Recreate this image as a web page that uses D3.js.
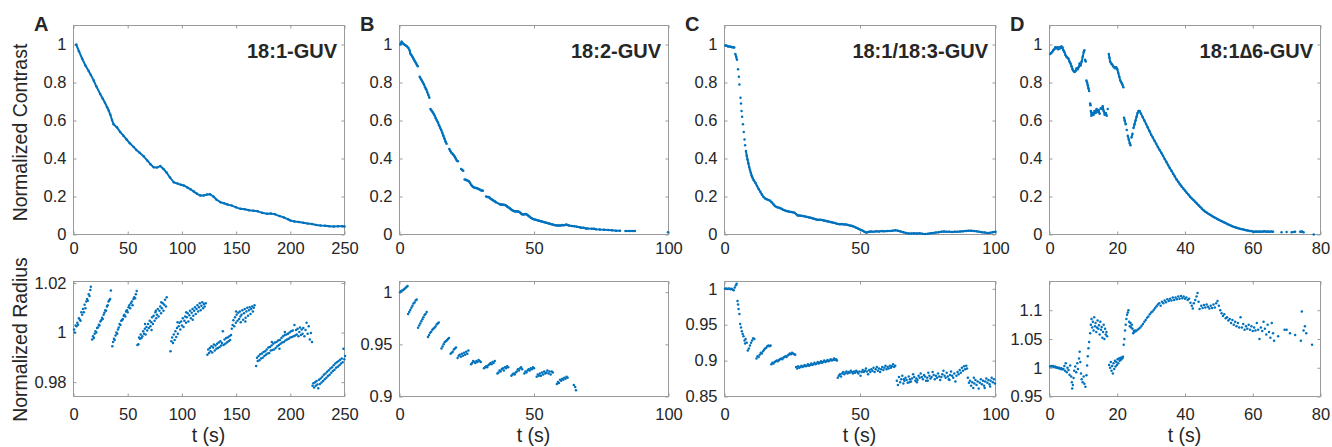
<!DOCTYPE html>
<html>
<head>
<meta charset="utf-8">
<script src="https://cdn.jsdelivr.net/npm/d3@7"></script>
<style>
  body { margin: 0; background: #fff; }
  svg text { font-family: "Liberation Sans", Arial, Helvetica, sans-serif; fill: #262626; }
</style>
</head>
<body>
<div id="chart"></div>
<script>
// ---- data: [t (s), value] ----
const contrastA = [[2.5,1.0],[5,0.965],[8,0.925],[11,0.89],[14,0.86],[16,0.84],[18.7,0.81],[21,0.78],[24.6,0.74],[27,0.715],[29,0.693],[31,0.67],[32.5,0.652],[34,0.63],[35.5,0.603],[37,0.58],[40,0.565],[43,0.54],[46,0.52],[49,0.5],[52,0.48],[55.6,0.46],[58,0.445],[61,0.43],[64.9,0.41],[68,0.39],[71,0.37],[74,0.354],[77,0.352],[80,0.36],[83,0.345],[86,0.325],[89,0.3],[92.5,0.275],[96,0.268],[99,0.262],[101.7,0.258],[105,0.248],[108,0.238],[111,0.226],[114,0.214],[117,0.205],[120,0.205],[123,0.21],[126,0.212],[129,0.2],[132,0.183],[135.6,0.17],[139,0.164],[142,0.158],[146,0.152],[150,0.143],[154,0.135],[158,0.133],[162,0.128],[166,0.125],[170,0.122],[174,0.114],[178.6,0.109],[182,0.11],[186,0.106],[190,0.097],[194,0.09],[198,0.08],[200,0.074],[204,0.068],[208,0.066],[212,0.062],[216,0.058],[220,0.055],[224,0.05],[228,0.047],[232,0.046],[236,0.044],[240,0.042],[244,0.043],[248,0.044],[250,0.042]];

const radiusA = [[0.5,1.0012],[1.2,1.0],[2,1.0028],[2.8,1.0025],[3.5,1.004],[4.2,1.0032],[5,1.0058],[5.8,1.0052],[6.5,1.0048],[7.2,1.0082],[8,1.0072],[8.8,1.0095],[9.5,1.0082],[10.2,1.0112],[11,1.0098],[11.8,1.0125],[12.5,1.0135],[13.2,1.0128],[14,1.0155],[14.8,1.0148],[15.5,1.0172],[16,1.0185],
[17.2,0.9972],[18,0.9985],[18.8,0.9978],[19.5,0.9995],[20.3,1.0005],[21,1.0],[21.8,1.0018],[22.5,1.002],[23.3,1.0032],[24,1.0028],[24.8,1.0045],[25.5,1.005],[26.3,1.006],[27,1.0055],[27.8,1.0072],[28.5,1.008],[29.3,1.009],[30,1.0088],[30.8,1.0105],[31.5,1.011],[32.3,1.0125],[33,1.013],[33.8,1.0135],[34.5,1.017],
[35.8,0.9945],[36.5,0.9962],[37.3,0.9975],[38,0.997],[38.8,0.9988],[39.5,1.0],[40.3,0.9995],[41,1.0012],[41.8,1.002],[42.5,1.0035],[43.3,1.003],[44,1.0048],[44.8,1.005],[45.5,1.0055],[46.3,1.0068],[47,1.0072],[47.8,1.0065],[48.5,1.0085],[49.3,1.009],[50,1.0082],[50.8,1.0102],[51.5,1.011],[52.3,1.0098],[53,1.0118],[53.8,1.0125],[54.5,1.011],[55.3,1.0135],[56,1.0142],[56.8,1.0138],[57.5,1.0155],[58.3,1.0168],
[59,0.995],[59.8,0.9953],[60.5,0.998],[61.3,0.9975],[62,0.9992],[62.8,0.9978],[63.5,0.9985],[64.3,1.0005],[65,0.9995],[65.8,1.0015],[66.5,0.9992],[67.3,1.0022],[68,1.0008],[68.8,1.0035],[69.5,1.0018],[70.3,1.0048],[71,1.0025],[71.8,1.0042],[72.5,1.0062],[73.3,1.0035],[74,1.0068],[74.8,1.0048],[75.5,1.0082],[76.3,1.0058],[77,1.0072],[77.8,1.0095],[78.5,1.0065],[79.3,1.0088],[80,1.0105],[80.8,1.0078],[81.5,1.0098],[82.3,1.0118],[83,1.0088],[83.8,1.0112],[84.5,1.0132],[85.3,1.0105],[86,1.0142],[66,1.0035],[72,1.001],[76,1.0088],[81,1.0122],
[89.5,0.9925],[90.3,0.9965],[91,0.998],[91.8,0.9958],[92.5,0.9992],[93.3,0.997],[94,1.0005],[94.8,0.9982],[95.5,1.0018],[96.3,0.9995],[97,1.0025],[97.8,1.004],[98.5,1.0012],[99.3,1.0045],[100,1.0028],[100.8,1.0058],[101.5,1.0022],[102.3,1.0048],[103,1.0065],[103.8,1.004],[104.5,1.0062],[105.3,1.0078],[106,1.0045],[106.8,1.007],[107.5,1.0088],[108.3,1.0058],[109,1.008],[109.8,1.0095],[110.5,1.0068],[111.3,1.0088],[112,1.0102],[112.8,1.0075],[113.5,1.0095],[114.3,1.011],[115,1.0085],[115.8,1.0102],[116.5,1.0118],[117.3,1.009],[118,1.0108],[118.8,1.0122],[119.5,1.0098],[120.3,1.0115],[121,1.0105],[122,1.0118],[96,1.0042],[104,1.0082],[110,1.0052],
[123.5,0.991],[124.3,0.9932],[125,0.9918],[125.8,0.9938],[126.5,0.9925],[127.3,0.9945],[128,0.992],[128.8,0.994],[129.5,0.9952],[130.3,0.9928],[131,0.9948],[131.8,0.9935],[132.5,0.9955],[133.3,0.9938],[134,0.996],[134.8,0.9942],[135.5,0.9965],[136.3,0.9948],[137,0.9958],[137.8,1.0005],[138.5,0.995],[139.3,0.9972],[140,0.9955],[140.8,0.9978],[141.5,0.996],[142.3,0.998],[143,0.9965],[143.8,0.9985],[144.5,0.997],[145.3,0.999],[146,1.0015],[146.8,1.003],[147.5,1.005],[148.3,1.0025],[149,1.0062],[149.8,1.004],[150.5,1.0072],[151.3,1.0048],[152,1.008],[152.8,1.0055],[153.5,1.0085],[154.3,1.0042],[155,1.0072],[155.8,1.009],[156.5,1.0052],[157.3,1.0078],[158,1.0095],[158.8,1.006],[159.5,1.0085],[160.3,1.01],[161,1.0068],[161.8,1.009],[162.5,1.0102],[163.3,1.0075],[164,1.0095],[164.8,1.0105],[165.5,1.0085],[166.3,1.01],[167,1.011],[150,1.0085],[154,1.0065],[158.5,1.0045],
[168.5,0.9865],[169.3,0.9898],[170,0.9885],[170.8,0.9905],[171.5,0.9888],[172.3,0.9912],[173,0.9895],[173.8,0.9915],[174.5,0.9898],[175.3,0.9922],[176,0.9905],[176.8,0.9925],[177.5,0.991],[178.3,0.9932],[179,0.9915],[179.8,0.994],[180.5,0.9918],[181.3,0.9942],[182,0.9928],[182.8,0.9948],[183.5,0.993],[184.3,0.9955],[185,0.9932],[185.8,0.996],[186.5,0.9938],[187.3,0.9962],[188,0.9945],[188.8,0.9968],[189.5,0.995],[190.3,0.997],[191,0.9955],[191.8,0.9978],[192.5,0.996],[193.3,0.9985],[194,0.9962],[194.8,0.999],[195.5,0.9968],[196.3,0.9992],[197,0.9972],[197.8,0.9995],[198.5,0.9975],[199.3,1.0],[200,0.998],[200.8,1.0005],[201.5,0.9982],[202.3,1.0008],[203,0.9985],[203.8,1.003],[204.5,0.9988],[205.3,1.001],[206,0.9992],[206.8,1.0015],[207.5,0.9985],[208.3,1.0002],[209,1.002],[209.8,0.999],[210.5,1.0012],[211.3,0.9995],[212,1.0018],[213,0.9985],[214,1.001],[215,1.004],[216,0.9995],[217,1.0025],[218,0.9972],[219,0.9998],[220,0.9962],[190,0.9935],[195,1.0002],[183,0.9962],
[220.5,0.9785],[221.3,0.9795],[222,0.9778],[222.8,0.98],[223.5,0.9785],[224.3,0.9805],[225,0.979],[225.8,0.9775],[226.5,0.981],[227.3,0.9792],[228,0.9815],[228.8,0.9798],[229.5,0.9822],[230.3,0.9805],[231,0.983],[231.8,0.9812],[232.5,0.9835],[233.3,0.9818],[234,0.9842],[234.8,0.9825],[235.5,0.9848],[236.3,0.983],[237,0.9855],[237.8,0.9838],[238.5,0.986],[239.3,0.9845],[240,0.9868],[240.8,0.985],[241.5,0.9875],[242.3,0.9858],[243,0.988],[243.8,0.9862],[244.5,0.9885],[245.3,0.9868],[246,0.989],[246.8,0.9875],[247.5,0.9895],[248.3,0.988],[249,0.9935],[249.8,0.9892],[250.5,0.9905]];

const contrastB = [[0.3,1.0],[0.8,1.015],[1.3,1.005],[1.8,1.0],[2.3,0.995],[2.8,0.99],[3.3,0.982],[3.8,0.968],
[4.0,0.952],[4.4,0.945],[4.8,0.935],[5.2,0.925],[5.6,0.915],[6.0,0.905],[6.4,0.895],[6.8,0.885],
[7.5,0.83],[7.9,0.82],[8.3,0.81],[8.7,0.8],[9.1,0.79],[9.5,0.775],[9.9,0.765],[10.3,0.75],[10.7,0.735],[11.1,0.72],
[11.5,0.66],[11.9,0.652],[12.3,0.645],[12.7,0.635],[13.1,0.625],[13.5,0.612],[13.9,0.6],[14.3,0.59],[14.7,0.575],[15.1,0.562],[15.5,0.55],[15.9,0.535],[16.3,0.52],[16.7,0.505],[17.1,0.49],[17.5,0.478],
[18.5,0.45],[18.9,0.44],[19.3,0.43],[19.7,0.425],[20.1,0.418],[20.5,0.41],[20.9,0.4],[21.3,0.39],[21.7,0.385],
[22.9,0.345],[23.3,0.34],[23.7,0.335],
[24.2,0.29],[24.6,0.288],[25,0.285],[25.4,0.283],[25.8,0.28],[26.2,0.272],[26.6,0.262],[27,0.255],[27.4,0.25],[27.8,0.247],[28.2,0.245],[28.6,0.245],[29,0.242],[29.4,0.24],[29.8,0.237],[30.2,0.233],[30.6,0.232],[31,0.23],
[32.2,0.2],[32.6,0.198],[33,0.197],[33.4,0.195],[33.8,0.19],[34.2,0.185],[34.6,0.182],[35,0.178],[35.4,0.175],[35.8,0.17],
[37.2,0.16],[37.6,0.157],[38,0.158],[38.4,0.157],[38.8,0.156],[39.2,0.155],[39.6,0.152],[40,0.148],[40.4,0.144],[40.8,0.14],[41.2,0.136],[41.6,0.13],[42,0.127],[42.4,0.124],[42.8,0.122],[43.2,0.121],[43.6,0.122],[44,0.121],[44.4,0.12],[44.8,0.116],[45.2,0.11],[45.6,0.106],[46,0.105],[46.4,0.106],[46.8,0.108],[47.2,0.106],[47.6,0.102],[48,0.098],[48.4,0.093],[48.8,0.088],[49.2,0.085],[49.6,0.082],[50,0.08],[50.5,0.078],[51,0.076],[51.5,0.074],[52,0.072],[52.5,0.07],[53,0.068],[53.5,0.066],[54,0.064],[54.5,0.062],[55,0.06],[55.5,0.058],[56,0.056],[56.5,0.054],[57,0.052],[57.5,0.05],[58,0.049],[58.5,0.048],[59,0.048],[59.5,0.047],[60,0.048],[60.5,0.05],[61,0.049],[61.5,0.05],[62,0.052],[62.5,0.05],[63,0.047],
[64,0.045],[65,0.043],[66,0.041],[67,0.038],[67.6,0.036],[68.5,0.035],[69.3,0.032],[70,0.031],[71.5,0.03],[72.3,0.03],[73,0.028],[74.5,0.026],[76,0.025],[77.6,0.024],[79,0.022],[80.5,0.02],[82,0.02],[84,0.019],[85.5,0.019],[86.5,0.018],[87.5,0.018],[99.8,0.012]];

const radiusB = [[0.2,1.0],[0.6,1.001],[1,1.0015],[1.4,1.002],[1.8,1.003],[2.2,1.004],[2.6,1.005],[3,1.006],
[3.2,0.979],[3.6,0.981],[4,0.983],[4.4,0.985],[4.8,0.987],[5.2,0.989],[5.6,0.99],[6,0.992],[6.4,0.993],
[6.9,0.966],[7.3,0.968],[7.7,0.97],[8.1,0.972],[8.5,0.974],[8.9,0.976],[9.3,0.978],[9.7,0.979],[10.1,0.981],
[10.6,0.957],[11,0.959],[11.4,0.961],[11.8,0.962],[12.2,0.964],[12.6,0.965],[13,0.966],[13.4,0.967],[13.8,0.969],[14.2,0.97],[14.6,0.971],
[15.6,0.946],[16,0.948],[16.4,0.95],[16.8,0.952],[17.2,0.953],[17.6,0.954],[18,0.955],[18.4,0.956],
[19,0.941],[19.4,0.942],[19.8,0.943],[20.2,0.945],[20.6,0.946],[21,0.947],
[21.6,0.937],[22,0.939],[22.4,0.94],[22.8,0.938],[23.2,0.941],[23.6,0.939],[24,0.942],[24.4,0.94],[24.8,0.943],[25.2,0.941],[25.6,0.944],
[26.6,0.931],[27,0.932],[27.4,0.934],[27.8,0.933],[28.2,0.932],[28.6,0.934],[29,0.933],[29.4,0.935],[29.8,0.934],[30.2,0.933],
[31.4,0.927],[31.8,0.928],[32.2,0.929],[32.6,0.928],[33,0.93],[33.4,0.931],[33.8,0.932],[34.2,0.931],[34.6,0.933],[35,0.932],[35.4,0.934],
[36.4,0.922],[36.8,0.923],[37.2,0.925],[37.6,0.924],[38,0.926],[38.4,0.927],[38.8,0.925],[39.2,0.928],[39.6,0.927],[40,0.929],[40.4,0.928],
[41.6,0.92],[42,0.921],[42.4,0.922],[42.8,0.921],[43.2,0.923],[43.6,0.924],[44,0.926],[44.4,0.925],[44.8,0.927],[45.2,0.928],[45.6,0.926],
[46.4,0.922],[46.8,0.924],[47.2,0.923],[47.6,0.925],[48,0.926],[48.4,0.925],[48.8,0.927],[49.2,0.926],[49.6,0.928],[50,0.927],
[51,0.919],[51.4,0.921],[51.8,0.92],[52.2,0.922],[52.6,0.92],[53,0.923],[53.4,0.921],[53.8,0.924],[54.2,0.922],[54.6,0.923],[55,0.925],[55.4,0.922],[55.8,0.924],[56.2,0.921],[56.6,0.924],[57,0.923],
[58.5,0.912],[58.9,0.914],[59.3,0.913],[59.7,0.916],[60.1,0.915],[60.5,0.917],[60.9,0.916],[61.3,0.918],[61.7,0.917],[62.1,0.919],[62.5,0.918],
[64.8,0.911],[65.3,0.909],[65.6,0.906]];

const contrastC = [[0.3,0.995],[0.8,0.993],[1.3,0.99],[1.8,0.99],[2.3,0.988],[2.8,0.986],[3.3,0.985],[3.6,0.984],
[4.0,0.95],[4.3,0.935],[4.6,0.92],[5.0,0.87],[5.3,0.83],[5.5,0.79],[5.9,0.72],[6.1,0.69],[6.3,0.65],[6.5,0.62],[6.8,0.58],[7.1,0.54],[7.4,0.5],[7.6,0.47],[7.9,0.44],[8.2,0.415],[8.5,0.395],[8.8,0.375],[9.1,0.355],[9.4,0.34],[9.7,0.325],[10.0,0.31],[10.3,0.3],
[10.8,0.285],[11.4,0.272],[12,0.255],[12.6,0.24],[13.2,0.225],[13.8,0.21],[14.4,0.198],[15,0.19],[15.6,0.185],[16.2,0.182],[16.8,0.178],[17.4,0.17],[18,0.16],[18.6,0.15],[19.2,0.145],[19.8,0.142],[20.4,0.14],[21,0.135],[21.6,0.13],[22.2,0.127],[22.8,0.124],[23.4,0.122],[24,0.12],[24.6,0.118],[25.2,0.117],[25.8,0.115],[26.4,0.108],[27,0.1],[27.6,0.1],[28.2,0.099],[28.8,0.098],[29.4,0.096],[30,0.094],[30.6,0.092],[31.2,0.09],[31.8,0.088],[32.4,0.086],[33,0.083],[33.6,0.08],[34.2,0.078],[34.8,0.077],[35.4,0.077],[36,0.076],[36.6,0.074],[37.2,0.072],[37.8,0.07],[38.4,0.068],[39,0.066],[39.6,0.064],[40.2,0.062],[40.8,0.06],[41.4,0.057],[42,0.055],[42.6,0.054],[43.2,0.055],[43.8,0.054],[44.4,0.052],[45,0.052],[45.6,0.05],[46.2,0.048],[46.8,0.046],[47.4,0.043],[48,0.04],[48.6,0.036],[49.2,0.032],[49.8,0.028],[50.4,0.024],[51,0.02],[51.6,0.015],[52.2,0.01],[52.8,0.012],[53.4,0.015],[54,0.016],[55,0.015],[56,0.017],[57,0.016],[58,0.018],[59,0.017],[60,0.019],[61,0.018],[62,0.02],[63,0.022],[64,0.02],[65,0.016],[66,0.012],[67,0.008],[68,0.005],[69,0.005],[70,0.006],[71,0.005],[72,0.006],[73,0.004],[74,0.003],[75,0.004],[76,0.006],[77,0.008],[78,0.01],[79,0.012],[80,0.015],[81,0.016],[82,0.015],[83,0.014],[84,0.013],[85,0.014],[86,0.015],[87,0.016],[88,0.017],[89,0.018],[90,0.02],[91,0.02],[92,0.018],[93,0.017],[94,0.014],[95,0.012],[96,0.01],[97,0.008],[98,0.009],[99,0.012],[100,0.015]];

const radiusC = [[0.2,1.0],[0.6,1.0005],[1,0.9998],[1.4,1.0],[1.8,1.0003],[2.2,0.9995],[2.6,1.0],[3,0.999],[3.4,0.998],[3.8,1.002],[4.2,1.005],[4.5,1.007],
[4.8,0.983],[5,0.978],[5.2,0.972],[5.5,0.965],
[5.8,0.951],[6.1,0.946],[6.4,0.941],[6.7,0.937],[7.0,0.934],[7.4,0.928],[7.6,0.924],
[7.8,0.93],[8.2,0.925],[8.6,0.914],[9.0,0.917],[9.4,0.921],[9.8,0.925],[10.2,0.928],[10.6,0.931],[11.0,0.93],
[11.8,0.903],[12.2,0.906],[12.6,0.905],[13,0.908],[13.4,0.911],[13.8,0.91],[14.2,0.913],[14.6,0.915],[15,0.917],[15.4,0.918],[15.8,0.92],[16.2,0.921],[16.6,0.92],[17,0.921],
[17.3,0.895],[17.7,0.897],[18.1,0.896],[18.5,0.898],[18.9,0.899],[19.3,0.9],[19.7,0.899],[20.1,0.901],[20.5,0.902],[20.9,0.903],[21.3,0.902],[21.7,0.904],[22.1,0.905],[22.5,0.906],[22.9,0.905],[23.3,0.907],[23.7,0.908],[24.1,0.91],[24.5,0.909],[24.9,0.911],[25.3,0.91],[25.7,0.909],[26.1,0.908],
[26.4,0.891],[26.8,0.889],[27.2,0.892],[27.6,0.89],[28,0.891],[28.4,0.893],[28.8,0.891],[29.2,0.892],[29.6,0.894],[30,0.892],[30.4,0.893],[30.8,0.895],[31.2,0.893],[31.6,0.894],[32,0.896],[32.4,0.894],[32.8,0.895],[33.2,0.897],[33.6,0.895],[34,0.896],[34.4,0.898],[34.8,0.896],[35.2,0.897],[35.6,0.899],[36,0.897],[36.4,0.898],[36.8,0.9],[37.2,0.898],[37.6,0.899],[38,0.901],[38.4,0.899],[38.8,0.9],[39.2,0.902],[39.6,0.9],[40,0.901],[40.4,0.903],[40.8,0.901],[41.2,0.902],[41.5,0.9],
[41.8,0.876],[42.2,0.879],[42.6,0.881],[43,0.878],[43.4,0.882],[43.8,0.884],[44.2,0.881],[44.6,0.883],[45,0.885],[45.4,0.882],[45.8,0.884],[46.2,0.883],[46.6,0.886],[47,0.884],[47.4,0.882],[47.8,0.885],[48.2,0.883],[48.6,0.886],[49,0.884],[49.4,0.882],[49.8,0.885],[50.2,0.879],[50.6,0.884],[51,0.887],[51.4,0.884],[51.8,0.886],[52.2,0.889],[52.6,0.885],[53,0.881],[53.4,0.887],[53.8,0.884],[54.2,0.888],[54.6,0.886],[55,0.89],[55.4,0.884],[55.8,0.888],[56.2,0.891],[56.6,0.886],[57,0.889],[57.4,0.884],[57.8,0.888],[58.2,0.891],[58.6,0.887],[59,0.89],[59.4,0.893],[59.8,0.888],[60.2,0.891],[60.6,0.889],[61,0.893],[61.4,0.89],[61.8,0.892],[62.2,0.895],[62.6,0.891],[63,0.893],
[63.6,0.872],[64,0.866],[64.4,0.877],[64.8,0.87],[65.2,0.874],[65.6,0.879],[66,0.868],[66.4,0.872],[66.8,0.876],[67.2,0.873],[67.6,0.869],[68,0.878],[68.4,0.874],[68.8,0.871],[69.2,0.875],[69.6,0.881],[70,0.877],[70.4,0.872],[70.8,0.875],[71.2,0.873],[71.6,0.879],[72,0.876],[72.4,0.882],[72.8,0.877],[73.2,0.874],[73.6,0.88],[74,0.878],[74.4,0.872],[74.8,0.876],[75.2,0.883],[75.6,0.879],[76,0.875],[76.4,0.877],[76.8,0.884],[77.2,0.88],[77.6,0.874],[78,0.879],[78.4,0.876],[78.8,0.882],[79.2,0.878],[79.6,0.873],[80,0.877],[80.4,0.881],[80.8,0.886],[81.2,0.879],[81.6,0.876],[82,0.883],[82.4,0.878],[82.8,0.874],[83.2,0.88],[83.6,0.885],[84,0.879],[84.4,0.876],[84.8,0.882],[85.2,0.871],[85.6,0.879],[86,0.884],[86.4,0.881],[86.8,0.887],[87.2,0.883],[87.6,0.89],[88,0.886],[88.4,0.892],[88.8,0.888],[89.2,0.893],[89.5,0.889],[68.2,0.87],[75,0.872],[83,0.873],[66.2,0.874],[71,0.87],
[89.8,0.876],[90.2,0.869],[90.6,0.872],[91,0.865],[91.4,0.87],[91.8,0.862],[92.2,0.868],[92.6,0.873],[93,0.866],[93.4,0.871],[93.8,0.861],[94.2,0.869],[94.6,0.874],[95,0.867],[95.4,0.872],[95.8,0.865],[96.2,0.871],[96.6,0.875],[97,0.869],[97.4,0.873],[97.8,0.867],[98.2,0.872],[98.6,0.876],[99,0.87],[99.4,0.874],[99.8,0.868],[92,0.876],[96,0.862],[98,0.864]];

const contrastD = [[0.2,0.95],[0.5,0.955],[0.8,0.96],[1.1,0.97],[1.4,0.975],[1.7,0.985],[2,0.98],[2.3,0.985],[2.6,0.975],[2.9,0.985],[3.2,0.98],[3.5,0.99],[3.8,0.985],[4.1,0.97],[4.4,0.96],[4.7,0.945],[5,0.935],[5.3,0.93],[5.6,0.925],[5.9,0.91],[6.2,0.9],[6.5,0.885],[6.8,0.87],[7.1,0.86],[7.4,0.855],[7.7,0.86],[8,0.875],[8.3,0.87],[8.6,0.88],[8.9,0.9],[9.2,0.89],[9.5,0.91],[9.8,0.935],[10.1,0.96],[10.3,0.97],[10.5,0.92],[10.7,0.91],
[10.9,0.81],[11.1,0.8],[11.3,0.785],[11.5,0.77],[11.7,0.755],[12,0.69],[12.1,0.68],[12.2,0.65],
[12.4,0.625],[12.7,0.64],[13,0.63],[13.3,0.65],[13.6,0.64],[13.9,0.66],[14.2,0.645],[14.5,0.655],[14.8,0.635],[15.1,0.665],[15.4,0.66],[15.7,0.675],[16,0.65],[16.3,0.63],[16.6,0.64],[16.9,0.625],[17.2,0.66],
[17.5,0.95],[17.7,0.93],[17.9,0.91],[18.2,0.9],[18.5,0.895],[18.8,0.885],[19.1,0.88],[19.4,0.875],[19.7,0.88],[20,0.87],[20.3,0.85],[20.6,0.83],[20.9,0.81],[21.2,0.8],[21.5,0.79],[21.8,0.775],
[22,0.615],[22.2,0.6],[22.5,0.58],[22.8,0.55],[23.1,0.52],[23.4,0.5],[23.7,0.48],[23.9,0.47],[24.2,0.51],[24.5,0.53],[24.8,0.56],[25.1,0.58],[25.4,0.6],[25.7,0.62],[26,0.64],[26.3,0.65],
[26.6,0.65],[27,0.636],[27.5,0.618],[28,0.6],[28.5,0.582],[29,0.563],[29.5,0.545],[30,0.525],[30.5,0.51],[31,0.493],[31.5,0.477],[32,0.461],[32.5,0.445],[33,0.43],[33.5,0.414],[34,0.398],[34.5,0.382],[35,0.366],[35.5,0.35],[36,0.335],[36.5,0.32],[37,0.305],[37.5,0.29],[38,0.277],[38.5,0.265],[39,0.253],[39.5,0.242],[40,0.231],[40.5,0.22],[41,0.21],[41.5,0.199],[42,0.19],[42.5,0.181],[43,0.172],[43.5,0.163],[44,0.154],[44.5,0.145],[45,0.136],[45.5,0.127],[46,0.12],[46.5,0.114],[47,0.108],[47.5,0.103],[48,0.097],[48.5,0.092],[49,0.087],[49.5,0.082],[50,0.077],[50.5,0.073],[51,0.069],[51.5,0.064],[52,0.06],[52.5,0.055],[53,0.051],[53.5,0.047],[54,0.043],[54.5,0.04],[55,0.037],[55.5,0.034],[56,0.031],[56.5,0.029],[57,0.027],[57.5,0.025],[58,0.023],[58.5,0.021],[59,0.019],[59.5,0.018],[60,0.016],[60.5,0.015],[61,0.016],[61.5,0.015],[62,0.016],[62.5,0.015],[63,0.016],[63.5,0.017],[64,0.015],[64.5,0.016],[65,0.015],[65.5,0.016],[66,0.014],
[68.5,0.012],[70,0.013],[71.5,0.012],[72.5,0.014],[74,0.015],[74.5,0.016],[75,0.012],[78,0.0]];

const radiusD = [[0.2,1.002],[0.5,1.003],[0.8,1.002],[1.1,1.003],[1.4,1.001],[1.7,1.002],[2,1.0],[2.3,1.001],[2.6,0.999],[2.9,1.0],[3.2,0.998],[3.5,0.999],[3.8,0.997],[4.1,0.998],[4.4,1.003],[4.6,0.995],[4.8,1.008],[5.1,0.992],[5.3,1.0],[5.6,0.996],[5.9,0.988],[6.1,1.004],[6.4,0.985],[6.6,0.975],[6.7,0.964],[6.9,0.97],[7.1,0.982],[7.3,0.995],[7.6,1.002],[7.9,0.992],[8.2,1.008],[8.4,0.998],[8.7,1.016],[8.9,1.028],[9.1,1.01],[9.3,0.99],[9.5,0.98],[9.8,0.975],[10.1,0.985],[10.3,0.972],[10.6,0.967],[10.9,0.987],[11.1,1.004],[11.3,1.02],[11.5,1.034],[11.7,1.045],
[12,1.06],[12.2,1.075],[12.4,1.085],[12.6,1.07],[12.8,1.08],[13,1.065],[13.2,1.088],[13.4,1.072],[13.6,1.078],[13.8,1.062],[14,1.07],[14.2,1.082],[14.4,1.068],[14.6,1.074],[14.8,1.058],[15,1.08],[15.2,1.066],[15.4,1.071],[15.6,1.052],[15.8,1.062],[16,1.075],[16.2,1.05],[16.4,1.068],[16.6,1.058],[16.8,1.062],[17,1.055],
[17.6,1.005],[17.9,1.0],[18.1,1.01],[18.3,0.995],[18.5,1.003],[18.7,0.99],[18.9,1.008],[19.1,0.998],[19.3,1.012],[19.5,1.002],[19.7,1.01],[19.9,1.005],[20.1,1.015],[20.3,1.008],[20.5,1.016],[20.7,1.012],[20.9,1.017],[21.1,1.014],[21.3,1.018],[21.5,1.016],[21.7,1.019],
[21.9,1.04],[22.1,1.05],[22.3,1.065],[22.5,1.075],[22.7,1.085],[22.9,1.092],[23.1,1.096],[23.3,1.1],[23.5,1.08],[23.7,1.072],[23.9,1.078],[24.1,1.07],[24.3,1.075],[24.5,1.068],[24.7,1.06],[24.9,1.064],[25.1,1.062],[25.3,1.065],
[25.6,1.064],[26,1.066],[26.4,1.068],[26.8,1.07],[27.2,1.073],[27.6,1.076],[28,1.08],[28.4,1.083],[28.8,1.087],[29.2,1.089],[29.6,1.093],[30,1.096],[30.4,1.098],[30.8,1.101],[31.2,1.104],[31.6,1.107],[32,1.11],[32.4,1.112],[32.8,1.108],[33.2,1.115],[33.6,1.112],[34,1.117],[34.4,1.114],[34.8,1.119],[35.2,1.116],[35.6,1.12],[36,1.117],[36.4,1.122],[36.8,1.118],[37.2,1.122],[37.6,1.119],[38,1.124],[38.4,1.12],[38.8,1.125],[39.2,1.121],[39.6,1.124],[40,1.12],[40.4,1.122],[40.8,1.118],[41.2,1.12],[41.6,1.113],[42,1.108],[42.3,1.103],[42.6,1.112],[43,1.118],[43.4,1.124],[43.7,1.13],[44,1.115],[44.3,1.102],
[44.8,1.108],[45.2,1.104],[45.6,1.109],[46,1.105],[46.4,1.11],[46.8,1.106],[47.2,1.103],[47.6,1.108],[48,1.104],[48.4,1.11],[48.8,1.105],[49.2,1.112],[49.6,1.116],[50,1.108],[50.4,1.1],
[50.8,1.095],[51.2,1.09],[51.6,1.093],[52,1.086],[52.4,1.088],[52.8,1.082],[53.2,1.085],[53.6,1.078],[54,1.083],[54.4,1.075],[54.8,1.08],[55.2,1.072],[55.6,1.078],[56,1.07],[56.4,1.088],[56.8,1.07],[57.2,1.076],[57.6,1.066],[58,1.072],[58.4,1.068],[58.8,1.075],[59.2,1.066],[59.6,1.072],[60,1.064],[60.4,1.07],[60.8,1.065],[61.2,1.078],[61.6,1.066],[62,1.05],[62.4,1.07],[62.8,1.064],[63.2,1.08],[63.6,1.068],[64,1.058],[64.4,1.075],[64.8,1.062],[65.2,1.052],[65.6,1.078],[66,1.06],[66.3,1.047],
[67.5,1.055],[69.4,1.066],[70,1.066],[71,1.06],[72.5,1.057],[74.2,1.047],[74.5,1.098],[75,1.065],[75.4,1.072],[75.8,1.06],[77.5,1.04]];

// ---- axes / labels ----
const letters = ["A", "B", "C", "D"];
const titles = ["18:1-GUV", "18:2-GUV", "18:1/18:3-GUV", "18:1\u22066-GUV"];
const xMax = [250, 100, 100, 80];
const xTicks = [[0, 50, 100, 150, 200, 250], [0, 50, 100], [0, 50, 100], [0, 20, 40, 60, 80]];
const contrastTicks = [0, 0.2, 0.4, 0.6, 0.8, 1];
const radiusDomains = [[0.9742, 1.0206], [0.9, 1.0102], [0.85, 1.0102], [0.95, 1.15]];
const radiusTicks = [[0.98, 1, 1.02], [0.9, 0.95, 1], [0.85, 0.9, 0.95, 1], [0.95, 1, 1.05, 1.1]];

const contrastSeries = [contrastA, contrastB, contrastC, contrastD];
const radiusSeries = [radiusA, radiusB, radiusC, radiusD];
// max pixel gap bridged by the trace in each contrast panel
const joinGap = [9, 5, 5, 5];

const BLUE = "#0072BD";
const BOX = "#9a9a9a";
const W = 1332, H = 447;
const colX = [[73, 344], [399, 668], [724, 995], [1049, 1320]];
const rowY = { top: [25, 234], bottom: [281, 396] };
const TICK = 3;

const svg = d3.select("#chart").append("svg")
    .attr("width", W)
    .attr("height", H);

function drawAxes(g, x, y, xt, yt, padX) {
    const x0 = x.range()[0], x1 = x.range()[1];
    const y0 = y.range()[1], y1 = y.range()[0];

    const fmt = d => d3.format("~g")(d);

    g.append("g").attr("transform", `translate(0,${y1})`)
        .call(d3.axisBottom(x).tickValues(xt).tickSize(-TICK).tickPadding(padX).tickFormat(fmt))
        .call(a => a.select(".domain").remove());
    g.append("g").attr("transform", `translate(0,${y0})`)
        .call(d3.axisTop(x).tickValues(xt).tickSize(-TICK).tickFormat(""))
        .call(a => a.select(".domain").remove());
    g.append("g").attr("transform", `translate(${x0},0)`)
        .call(d3.axisLeft(y).tickValues(yt).tickSize(-TICK).tickPadding(7).tickFormat(fmt))
        .call(a => a.select(".domain").remove());
    g.append("g").attr("transform", `translate(${x1},0)`)
        .call(d3.axisRight(y).tickValues(yt).tickSize(-TICK).tickFormat(""))
        .call(a => a.select(".domain").remove());

    g.selectAll(".tick line").attr("stroke", BOX);
    g.selectAll(".tick text")
        .attr("font-family", '"Liberation Sans", Arial, sans-serif')
        .attr("font-size", 16.5)
        .attr("fill", "#262626");

    g.append("rect")
        .attr("x", x0).attr("y", y0)
        .attr("width", x1 - x0).attr("height", y1 - y0)
        .attr("fill", "none")
        .attr("stroke", BOX);
}

// split into runs of neighbouring points (pixel distance) so dense parts read as a solid trace
function runs(pts, x, y, maxGap) {
    const out = [];
    let cur = [];
    pts.forEach((p, i) => {
        if (i > 0) {
            const q = pts[i - 1];
            const dx = x(p[0]) - x(q[0]), dy = y(p[1]) - y(q[1]);
            if (Math.hypot(dx, dy) > maxGap) { out.push(cur); cur = []; }
        }
        cur.push(p);
    });
    out.push(cur);
    return out.filter(r => r.length > 1);
}

function drawSeries(g, pts, x, y, gap) {
    const plot = g.append("g");
    if (gap) {
        const line = d3.line().x(d => x(d[0])).y(d => y(d[1]));
        plot.selectAll("path.run")
            .data(runs(pts, x, y, gap))
            .enter().append("path")
            .attr("class", "run")
            .attr("d", line)
            .attr("fill", "none")
            .attr("stroke", BLUE)
            .attr("stroke-width", 2)
            .attr("stroke-linejoin", "round");
    }
    plot.selectAll("circle")
        .data(pts)
        .enter().append("circle")
        .attr("cx", d => x(d[0]))
        .attr("cy", d => y(d[1]))
        .attr("r", 1.25)
        .attr("fill", BLUE);
}

colX.forEach((cx, i) => {
    const g = svg.append("g").attr("class", "panel-" + letters[i]);

    // top: normalized contrast
    const x = d3.scaleLinear().domain([0, xMax[i]]).range([cx[0] + 0.5, cx[1] + 0.5]);
    const yC = d3.scaleLinear().domain([0, 1.1]).range([rowY.top[1] + 0.5, rowY.top[0] + 0.5]);
    drawAxes(g, x, yC, xTicks[i], contrastTicks, 8);
    drawSeries(g, contrastSeries[i], x, yC, joinGap[i]);

    // bottom: normalized radius
    const yR = d3.scaleLinear().domain(radiusDomains[i]).range([rowY.bottom[1] + 0.5, rowY.bottom[0] + 0.5]);
    drawAxes(g, x, yR, xTicks[i], radiusTicks[i], 12);
    drawSeries(g, radiusSeries[i], x, yR, 0);

    // panel letter and title
    g.append("text")
        .attr("x", cx[0] - 39)
        .attr("y", 31)
        .attr("font-size", 20)
        .attr("font-weight", "bold")
        .attr("fill", "#000")
        .text(letters[i]);
    g.append("text")
        .attr("x", cx[1] - 7)
        .attr("y", 58)
        .attr("text-anchor", "end")
        .attr("font-size", 20)
        .attr("font-weight", "bold")
        .attr("fill", "#000")
        .text(titles[i]);

    // x label
    g.append("text")
        .attr("x", (cx[0] + cx[1]) / 2)
        .attr("y", 442)
        .attr("text-anchor", "middle")
        .attr("font-size", 19.5)
        .text("t (s)");
});

// y labels
svg.append("text")
    .attr("transform", `translate(27,${(rowY.top[0] + rowY.top[1]) / 2 + 3}) rotate(-90)`)
    .attr("text-anchor", "middle")
    .attr("font-size", 19.5)
    .text("Normalized Contrast");
svg.append("text")
    .attr("transform", `translate(27,${(rowY.bottom[0] + rowY.bottom[1]) / 2 + 1}) rotate(-90)`)
    .attr("text-anchor", "middle")
    .attr("font-size", 19.5)
    .text("Normalized Radius");
</script>
</body>
</html>
